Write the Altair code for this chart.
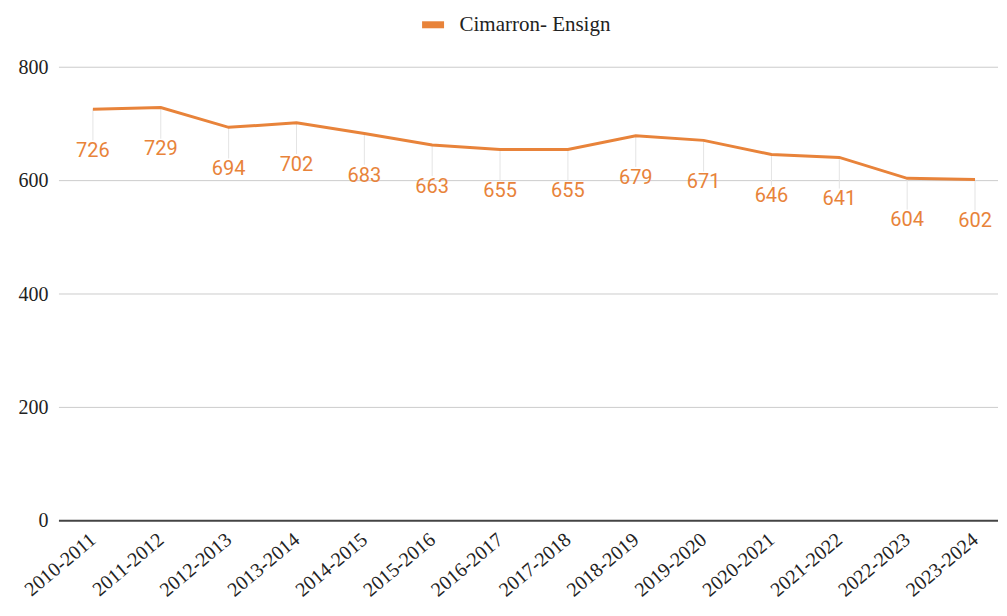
import altair as alt
import pandas as pd

years = ["2010-2011", "2011-2012", "2012-2013", "2013-2014", "2014-2015", "2015-2016",
         "2016-2017", "2017-2018", "2018-2019", "2019-2020", "2020-2021", "2021-2022",
         "2022-2023", "2023-2024"]
values = [726, 729, 694, 702, 683, 663, 655, 655, 679, 671, 646, 641, 604, 602]
series = "Cimarron- Ensign"
y_ticks = [0, 200, 400, 600, 800]

df = pd.DataFrame({"year": years, "value": values, "series": series})
grid_df = pd.DataFrame({"t": y_ticks[1:]})

ORANGE = "#e8833a"
SERIF = "Liberation Serif"

x_enc = alt.X("year:N", sort=years, title=None,
              scale=alt.Scale(type="point", range=[34, 917], padding=0),
              axis=alt.Axis(labelAngle=-40, labelAlign="right", labelBaseline="middle",
                            labelFont=SERIF, labelFontSize=20, labelColor="#222",
                            domain=False, ticks=False, labelPadding=16, grid=False))
y_scale = alt.Scale(domain=[0, 800])

base = alt.Chart(df)

grid = alt.Chart(grid_df).mark_rule(color="#cccccc", strokeWidth=1).encode(
    y=alt.Y("t:Q", scale=y_scale))

leaders = base.transform_calculate(low="datum.value - 55").mark_rule(
    color="#e4e4e4", strokeWidth=1).encode(
    x=x_enc, y=alt.Y("value:Q", scale=y_scale), y2="low:Q")

line = base.mark_line(strokeWidth=3).encode(
    x=x_enc,
    y=alt.Y("value:Q", scale=y_scale, title=None,
            axis=alt.Axis(values=y_ticks, domain=False, ticks=False, labelFont=SERIF,
                          labelFontSize=20, labelColor="#222", grid=False,
                          labelPadding=11)),
    color=alt.Color("series:N", scale=alt.Scale(range=[ORANGE]), title=None,
                    legend=alt.Legend(orient="none", legendX=360, legendY=-57,
                                      direction="horizontal",
                                      symbolType="stroke", symbolSize=484,
                                      symbolStrokeWidth=7,
                                      labelFont=SERIF, labelFontSize=21, labelColor="#222",
                                      labelOffset=12)),
)

labels = base.mark_text(font="Roboto", fontSize=20, color=ORANGE, dy=42).encode(
    x=x_enc, y=alt.Y("value:Q", scale=y_scale), text="value:Q")

zero = alt.Chart(pd.DataFrame({"z": [0]})).mark_rule(color="#444", strokeWidth=2).encode(
    y=alt.Y("z:Q", scale=y_scale))

chart = alt.layer(grid, leaders, zero, line, labels).properties(
    width=940, height=454, background="white",
    padding={"left": 10, "top": 2, "right": 0, "bottom": 0}
).configure_view(stroke=None)

chart.save("out.html", embed_options={"renderer": "svg", "actions": False})
